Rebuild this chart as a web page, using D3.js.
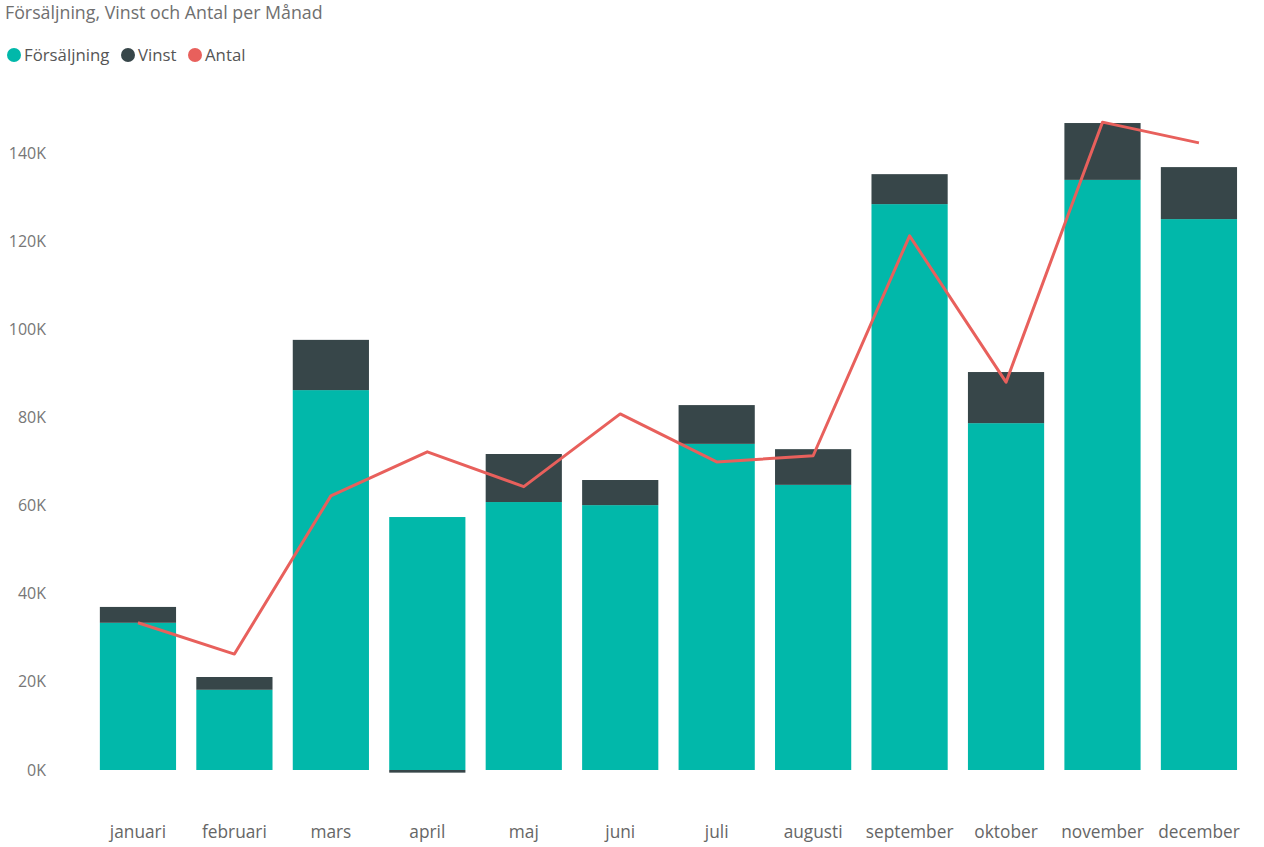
<!DOCTYPE html>
<html>
<head>
<meta charset="utf-8">
<script src="https://cdn.jsdelivr.net/npm/d3@7"></script>
<style>
  body { margin: 0; background: #fff; }
  text { font-family: "Open Sans", "Noto Sans", sans-serif; }
</style>
</head>
<body>
<svg id="chart" width="1264" height="847"></svg>
<script>
var months = ["januari", "februari", "mars", "april", "maj", "juni", "juli", "augusti", "september", "oktober", "november", "december"];
var forsaljning = [33400, 18200, 86200, 57400, 60800, 60100, 74000, 64700, 128400, 78700, 133900, 125000];
var vinst = [3600, 2900, 11400, -600, 10900, 5700, 8800, 8100, 6800, 11600, 12900, 11800];
var antal = [334, 263, 622, 722, 643, 808, 699, 713, 1212, 880, 1470, 1423];
var yTicks = [0, 20000, 40000, 60000, 80000, 100000, 120000, 140000];

var svg = d3.select("#chart");

var x = d3.scaleBand().domain(months).range([79.6, 1257.3]).padding(0.21);
var y = d3.scaleLinear().domain([0, 140000]).range([770, 153]);
var y2 = d3.scaleLinear().domain([0, 1400]).range([770, 153]);

// title
svg.append("text")
    .attr("x", 5).attr("y", 19)
    .attr("font-size", 17.8)
    .attr("fill", "#6f6f6f")
    .text("Försäljning, Vinst och Antal per Månad");

// legend
var legend = [
    { name: "Försäljning", color: "#01B8AA", x: 14 },
    { name: "Vinst", color: "#374649", x: 128 },
    { name: "Antal", color: "#E8605C", x: 195 }
];
var lg = svg.append("g").selectAll("g").data(legend).enter().append("g");
lg.append("circle")
    .attr("cx", function (d) { return d.x; })
    .attr("cy", 55).attr("r", 7)
    .attr("fill", function (d) { return d.color; });
lg.append("text")
    .attr("x", function (d) { return d.x + 10; })
    .attr("y", 61)
    .attr("font-size", 16.8)
    .attr("fill", "#555")
    .text(function (d) { return d.name; });

// y axis
var yAxis = svg.append("g")
    .attr("transform", "translate(46,0)")
    .call(d3.axisLeft(y).tickValues(yTicks).tickSize(0).tickPadding(0)
        .tickFormat(function (d) { return (d / 1000) + "K"; }));
yAxis.select(".domain").remove();
yAxis.selectAll("text")
    .attr("font-size", 16)
    .attr("fill", "#777")
    .style("font-family", "'Open Sans', sans-serif");

// x axis
var xAxis = svg.append("g")
    .attr("transform", "translate(0,826)")
    .call(d3.axisBottom(x).tickSize(0).tickPadding(0));
xAxis.select(".domain").remove();
xAxis.selectAll("text")
    .attr("font-size", 17.3)
    .attr("fill", "#666")
    .attr("dy", "0.71em")
    .style("font-family", "'Open Sans', sans-serif");

// bars: Försäljning
svg.append("g").selectAll("rect")
    .data(months).enter().append("rect")
    .attr("x", function (d) { return x(d); })
    .attr("width", x.bandwidth())
    .attr("y", function (d, i) { return y(forsaljning[i]); })
    .attr("height", function (d, i) { return y(0) - y(forsaljning[i]); })
    .attr("fill", "#01B8AA");

// bars: Vinst (stacked on top, negative below zero)
svg.append("g").selectAll("rect")
    .data(months).enter().append("rect")
    .attr("x", function (d) { return x(d); })
    .attr("width", x.bandwidth())
    .attr("y", function (d, i) {
        return vinst[i] >= 0 ? y(forsaljning[i] + vinst[i]) : y(0);
    })
    .attr("height", function (d, i) {
        return vinst[i] >= 0 ? y(forsaljning[i]) - y(forsaljning[i] + vinst[i]) : y(vinst[i]) - y(0);
    })
    .attr("fill", "#374649");

// Antal line
var line = d3.line()
    .x(function (d, i) { return x(months[i]) + x.bandwidth() / 2; })
    .y(function (d) { return y2(d); });
svg.append("path")
    .datum(antal)
    .attr("d", line)
    .attr("fill", "none")
    .attr("stroke", "#E8605C")
    .attr("stroke-width", 3)
    .attr("stroke-linejoin", "round");
</script>
</body>
</html>
